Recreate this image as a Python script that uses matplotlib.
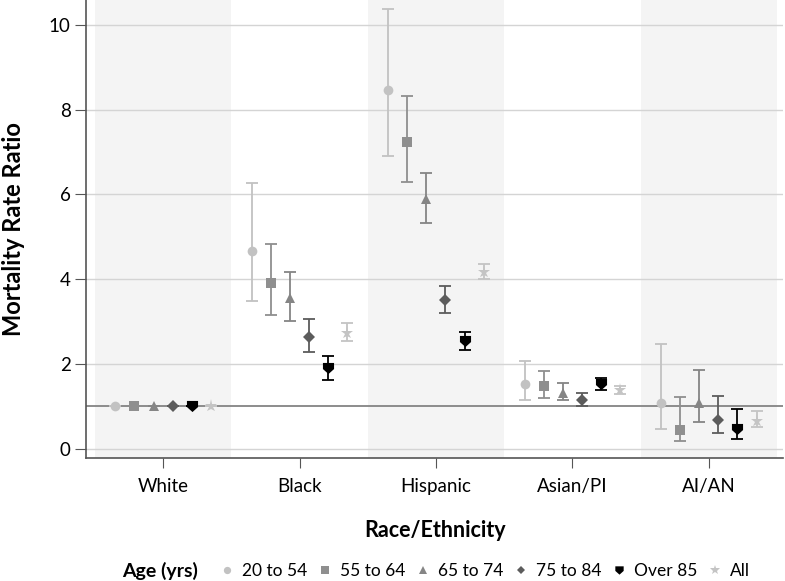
import matplotlib
matplotlib.use("Agg")
import matplotlib.pyplot as plt
import numpy as np
from matplotlib.path import Path

plt.rcParams["font.family"] = ["Lato", "DejaVu Sans"]

groups = ["White", "Black", "Hispanic", "Asian/PI", "AI/AN"]
ages = ["20 to 54", "55 to 64", "65 to 74", "75 to 84", "Over 85", "All"]

# rate ratio, lower CI, upper CI per age group (rows) and race (columns)
ratio = [
    [1.0, 4.67, 8.47, 1.53, 1.08],
    [1.0, 3.92, 7.25, 1.48, 0.45],
    [1.0, 3.56, 5.89, 1.31, 1.08],
    [1.0, 2.64, 3.51, 1.16, 0.68],
    [1.0, 1.91, 2.55, 1.53, 0.47],
    [1.0, 2.74, 4.18, 1.39, 0.66],
]
lower = [
    [1.0, 3.49, 6.91, 1.14, 0.47],
    [1.0, 3.15, 6.30, 1.19, 0.17],
    [1.0, 3.02, 5.32, 1.16, 0.64],
    [1.0, 2.29, 3.20, 1.01, 0.37],
    [1.0, 1.62, 2.32, 1.38, 0.23],
    [1.0, 2.54, 4.00, 1.28, 0.50],
]
upper = [
    [1.0, 6.26, 10.38, 2.06, 2.47],
    [1.0, 4.84, 8.33, 1.84, 1.23],
    [1.0, 4.17, 6.51, 1.56, 1.86],
    [1.0, 3.07, 3.84, 1.31, 1.24],
    [1.0, 2.19, 2.75, 1.67, 0.93],
    [1.0, 2.96, 4.36, 1.47, 0.90],
]

# shield-like marker for "Over 85"
shield = Path([(-1, 1), (1, 1), (1, -0.1), (0, -1), (-1, -0.1), (-1, 1)],
              [Path.MOVETO, Path.LINETO, Path.LINETO, Path.LINETO, Path.LINETO, Path.CLOSEPOLY])

markers = ["o", "s", "^", "D", shield, "*"]
sizes = [7, 7, 7.5, 6, 8, 9.5]
colors = ["#c2c2c2", "#8f8f8f", "#858585", "#5c5c5c", "#000000", "#c4c4c4"]

fig = plt.figure(figsize=(7.85, 5.81), dpi=100)
ax = fig.add_axes([0.1096, 1 - 458 / 581, 0.888, 458 / 581])

x = np.arange(len(groups))
for i in [0, 2, 4]:
    ax.axvspan(i - 0.5, i + 0.5, color="#f4f4f4", zorder=0, lw=0)

for v in range(0, 11, 2):
    ax.axhline(v, color="#d4d4d4", lw=1, zorder=1)
ax.axhline(1, color="#8c8c8c", lw=1.4, zorder=2)

step = 0.14
for k in range(len(ages)):
    xs = x + (k - 2.5) * step
    r = np.array(ratio[k])
    err = [r - np.array(lower[k]), np.array(upper[k]) - r]
    ax.errorbar(xs, r, yerr=err, fmt="none", ecolor=colors[k], elinewidth=1.3,
                capsize=4.5, capthick=1.3, zorder=3)
    ax.plot(xs, r, linestyle="none", marker=markers[k], markersize=sizes[k],
            color=colors[k], markeredgewidth=0, zorder=4, label=ages[k])

ax.set_xlim(-0.565, 4.545)
ax.set_ylim(-0.22, 10.59)
ax.set_xticks(x)
ax.set_xticklabels(groups, fontsize=13.5)
ax.set_yticks(range(0, 11, 2))
ax.tick_params(axis="y", labelsize=13.5, length=8, color="#555555", pad=3)
ax.tick_params(axis="x", length=7.5, color="#555555", pad=7)
for s in ["top", "right"]:
    ax.spines[s].set_visible(False)
for s in ["left", "bottom"]:
    ax.spines[s].set_color("#555555")
    ax.spines[s].set_linewidth(1.2)

ax.set_ylabel("Mortality Rate Ratio", fontsize=17, fontweight="bold", labelpad=17)
ax.set_xlabel("Race/Ethnicity", fontsize=15.5, fontweight="bold", labelpad=18)

fig.text(122 / 785, 1 - 571 / 581, "Age (yrs)", fontsize=14, fontweight="bold",
         va="center", ha="left")
handles, labels = ax.get_legend_handles_labels()
fig.legend(handles, labels, loc="center", bbox_to_anchor=(485 / 785, 1 - 571 / 581),
           ncol=6, frameon=False, fontsize=12.5, handletextpad=0.45,
           columnspacing=0.63, handlelength=0.8, markerscale=0.75,
           borderaxespad=0, borderpad=0)

fig.savefig("out.png", dpi=100)
